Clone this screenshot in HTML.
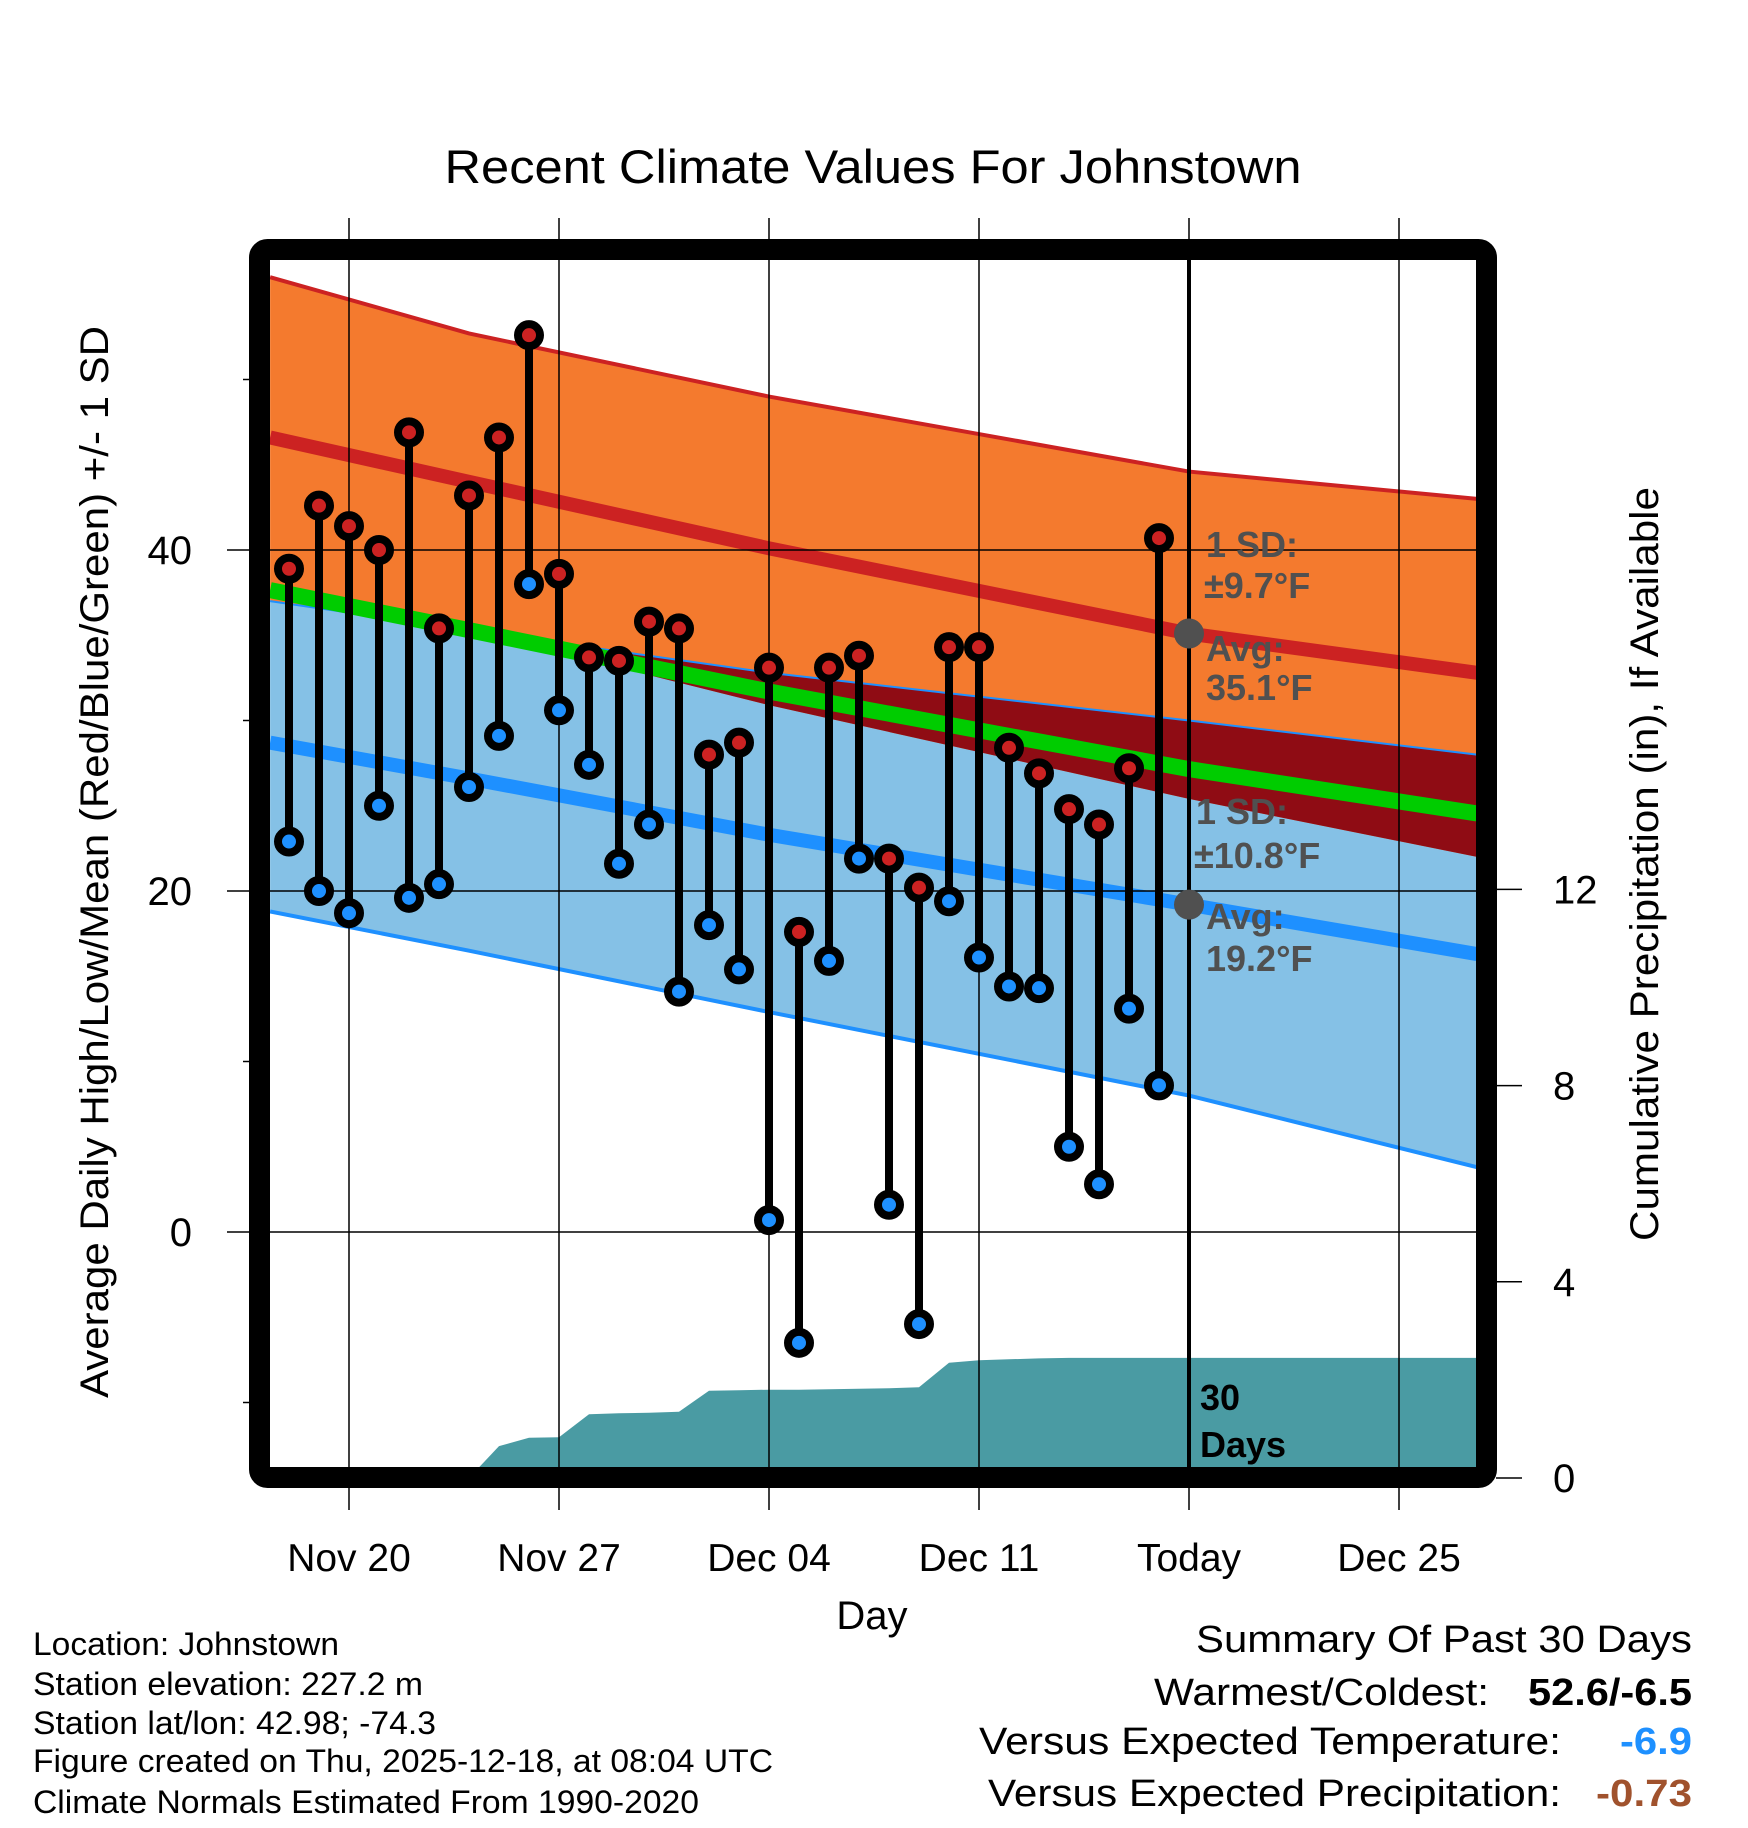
<!DOCTYPE html>
<html><head><meta charset="utf-8">
<style>
html,body{margin:0;padding:0;background:#fff;}
svg{display:block;}
text{font-family:"Liberation Sans",sans-serif;}
</style></head>
<body>
<svg id="chart" xmlns="http://www.w3.org/2000/svg" width="1748" height="1828" viewBox="0 0 1748 1828">
<defs><clipPath id="plotClip"><rect x="270" y="260" width="1208" height="1207"/></clipPath></defs>
<g id="bands" clip-path="url(#plotClip)"></g>
<g id="grid"></g>
<g id="marks" clip-path="url(#plotClip)"></g>
<rect x="259.5" y="249.5" width="1227" height="1228" rx="8" fill="none" stroke="#000" stroke-width="21"/>
<g id="axes"></g>
<text x="873" y="183" text-anchor="middle" font-size="47" textLength="857" lengthAdjust="spacingAndGlyphs">Recent Climate Values For Johnstown</text>
<text x="872" y="1629" text-anchor="middle" font-size="40">Day</text>
<text transform="translate(108,862) rotate(-90)" text-anchor="middle" font-size="40" textLength="1072" lengthAdjust="spacingAndGlyphs">Average Daily High/Low/Mean (Red/Blue/Green) +/- 1 SD</text>
<text transform="translate(1658,864) rotate(-90)" text-anchor="middle" font-size="40" textLength="754" lengthAdjust="spacingAndGlyphs">Cumulative Precipitation (in), If Available</text>
<g font-size="32">
<text x="33" y="1655" textLength="306" lengthAdjust="spacingAndGlyphs">Location: Johnstown</text>
<text x="33" y="1695" textLength="390" lengthAdjust="spacingAndGlyphs">Station elevation: 227.2 m</text>
<text x="33" y="1734" textLength="403" lengthAdjust="spacingAndGlyphs">Station lat/lon: 42.98; -74.3</text>
<text x="33" y="1772" textLength="740" lengthAdjust="spacingAndGlyphs">Figure created on Thu, 2025-12-18, at 08:04 UTC</text>
<text x="33" y="1813" textLength="666" lengthAdjust="spacingAndGlyphs">Climate Normals Estimated From 1990-2020</text>
</g>
<g font-size="38">
<text x="1692" y="1652" text-anchor="end" textLength="496" lengthAdjust="spacingAndGlyphs">Summary Of Past 30 Days</text>
<text x="1489" y="1705" text-anchor="end" textLength="335" lengthAdjust="spacingAndGlyphs">Warmest/Coldest:</text>
<text x="1692" y="1705" text-anchor="end" font-weight="bold" textLength="164" lengthAdjust="spacingAndGlyphs">52.6/-6.5</text>
<text x="1561" y="1754" text-anchor="end" textLength="582" lengthAdjust="spacingAndGlyphs">Versus Expected Temperature:</text>
<text x="1692" y="1754" text-anchor="end" font-weight="bold" fill="#1e90ff" textLength="72" lengthAdjust="spacingAndGlyphs">-6.9</text>
<text x="1561" y="1806" text-anchor="end" textLength="573" lengthAdjust="spacingAndGlyphs">Versus Expected Precipitation:</text>
<text x="1692" y="1806" text-anchor="end" font-weight="bold" fill="#a0522d" textLength="96" lengthAdjust="spacingAndGlyphs">-0.73</text>
</g>
<g id="annot" font-size="36" font-weight="bold" fill="#505050">
<text x="1206" y="557">1 SD:</text>
<text x="1204" y="598">±9.7°F</text>
<text x="1206" y="661">Avg:</text>
<text x="1206" y="700">35.1°F</text>
<text x="1196" y="824">1 SD:</text>
<text x="1194" y="868">±10.8°F</text>
<text x="1206" y="929">Avg:</text>
<text x="1206" y="971">19.2°F</text>
</g>
<g font-size="36" font-weight="bold">
<text x="1200" y="1410">30</text>
<text x="1200" y="1457">Days</text>
</g>
</svg>
<script>
// ---- data ----
const dayLabels = ["Nov 18","Nov 19","Nov 20","Nov 21","Nov 22","Nov 23","Nov 24","Nov 25","Nov 26","Nov 27","Nov 28","Nov 29","Nov 30","Dec 01","Dec 02","Dec 03","Dec 04","Dec 05","Dec 06","Dec 07","Dec 08","Dec 09","Dec 10","Dec 11","Dec 12","Dec 13","Dec 14","Dec 15","Dec 16","Dec 17"];
const highs = [38.9,42.6,41.4,40.0,46.9,35.4,43.2,46.6,52.6,38.6,33.7,33.5,35.8,35.4,28.0,28.7,33.1,17.6,33.1,33.8,21.9,20.2,34.3,34.3,28.4,26.9,24.8,23.9,27.2,40.7];
const lows = [22.9,20.0,18.7,25.0,19.6,20.4,26.1,29.1,38.0,30.6,27.4,21.6,23.9,14.1,18.0,15.4,0.7,-6.5,15.9,21.9,1.6,-5.4,19.4,16.1,14.4,14.3,5.0,2.8,13.1,8.6];
const precipCum = [0,0,0,0,0,0,0,0.65,0.82,0.83,1.3,1.32,1.33,1.35,1.78,1.79,1.8,1.8,1.81,1.82,1.83,1.85,2.35,2.4,2.42,2.44,2.45,2.45,2.45,2.45];
const normDays = [-2.63,4,14,28,37.6];
const hiUpper = [56.0,52.7,49.0,44.6,43.0];
const hiAvg = [46.6,44.0,40.1,35.1,32.8];
const hiLower = [37.0,35.3,30.9,25.4,22.0];
const loUpper = [36.8,35.3,32.8,30.0,28.0];
const loAvg = [28.7,26.6,23.3,19.2,16.3];
const loLower = [18.8,16.5,12.9,8.0,3.8];
const xTickLabels = ["Nov 20","Nov 27","Dec 04","Dec 11","Today","Dec 25"];
const xTickDays = [0,7,14,21,28,35];
const yTicks = [0,20,40];
const yMinorTicks = [-10,10,30,50];
const y2Ticks = [0,4,8,12];
const firstDay = -2;   // Nov 18 relative to Nov 20
const todayDay = 28;

// ---- axes ----
const NS = "http://www.w3.org/2000/svg";
const xS = d => 349 + 30 * d;
const yS = v => 1232 - 17.05 * v;
const y2S = p => 1478 - 49.05 * p;
function mk(tag, attrs, parent) {
  const e = document.createElementNS(NS, tag);
  for (const k in attrs) e.setAttribute(k, attrs[k]);
  parent.appendChild(e);
  return e;
}
const bands = document.getElementById('bands');
const grid = document.getElementById('grid');
const marks = document.getElementById('marks');
const axes = document.getElementById('axes');

function pts(days, vals) { return days.map((d, i) => xS(d) + ',' + yS(vals[i])); }
function band(top, bot, fill, name) {
  const p = pts(normDays, top).concat(pts(normDays, bot).reverse());
  const e = mk('polygon', {points: p.join(' '), fill: fill}, bands);
  
  
}
function line(vals, color, w, name) {
  const e = mk('polyline', {points: pts(normDays, vals).join(' '), fill: 'none', stroke: color, 'stroke-width': w}, bands);
  
  
}
const blueTop = normDays.map((d, i) => Math.max(loUpper[i], hiLower[i]));
const redTop = normDays.map((d, i) => Math.max(loUpper[i], hiLower[i]));
const meanVals = normDays.map((d, i) => (hiAvg[i] + loAvg[i]) / 2);
band(blueTop, loLower, '#85c1e6', 'low-sd-band');
band(hiUpper, hiLower, '#f47a2e', 'high-sd-band');
band(redTop, hiLower, '#8f0c14', 'overlap-band');
line(loUpper.map((v, i) => Math.max(v, hiLower[i])), '#1e90ff', 2, 'low-upper-line');
line(hiUpper, '#cc2222', 4, 'high-upper-line');
line(loLower, '#1e90ff', 4, 'low-lower-line');
line(hiAvg, '#cc2222', 14, 'high-avg-line');
line(loAvg, '#1e90ff', 14, 'low-avg-line');
line(meanVals, '#00cc00', 16, 'mean-line');

// precipitation area
{
  const p = [xS(firstDay) + ',' + y2S(0)];
  precipCum.forEach((v, i) => p.push(xS(firstDay + i) + ',' + y2S(v)));
  p.push(xS(37.6) + ',' + y2S(precipCum[precipCum.length - 1]));
  p.push(xS(37.6) + ',' + y2S(0));
  const e = mk('polygon', {points: p.join(' '), fill: '#4a9ba3'}, bands);
  
  
}

// grid
xTickDays.forEach((d, i) => {
  const g = mk('line', {x1: xS(d), x2: xS(d), y1: 218, y2: 1510, stroke: '#000', 'stroke-width': 1.5}, grid);
  
  
  const t = mk('text', {x: xS(d), y: 1571, 'text-anchor': 'middle', 'font-size': 39}, axes);
  t.textContent = xTickLabels[i];
  
  
});
yTicks.forEach(v => {
  const g = mk('line', {x1: 227, x2: 1478, y1: yS(v), y2: yS(v), stroke: '#000', 'stroke-width': 1.5}, grid);
  
  
  const t = mk('text', {x: 192, y: yS(v) + 14, 'text-anchor': 'end', 'font-size': 40}, axes);
  t.textContent = v;
  
  
});
yMinorTicks.forEach(v => {
  const g = mk('line', {x1: 243, x2: 252, y1: yS(v), y2: yS(v), stroke: '#000', 'stroke-width': 1.5}, axes);
  
  
});
y2Ticks.forEach(v => {
  const g = mk('line', {x1: 1496, x2: 1522, y1: y2S(v), y2: y2S(v), stroke: '#000', 'stroke-width': 1.5}, axes);
  
  
  const t = mk('text', {x: 1553, y: y2S(v) + 14, 'font-size': 40}, axes);
  t.textContent = v;
  
  
});

// today line
{
  const e = mk('line', {x1: xS(todayDay), x2: xS(todayDay), y1: 260, y2: 1467, stroke: '#000', 'stroke-width': 4}, marks);
  
  
}
// stems + markers
highs.forEach((h, i) => {
  const x = xS(firstDay + i);
  const s = mk('line', {x1: x, x2: x, y1: yS(h), y2: yS(lows[i]), stroke: '#000', 'stroke-width': 8}, marks);
  
  
});
highs.forEach((h, i) => {
  const x = xS(firstDay + i);
  const c1 = mk('circle', {cx: x, cy: yS(h), r: 11, fill: '#cc2222', stroke: '#000', 'stroke-width': 8}, marks);
  
  
  const c2 = mk('circle', {cx: x, cy: yS(lows[i]), r: 11, fill: '#1e90ff', stroke: '#000', 'stroke-width': 8}, marks);
  
  
});
// today normals dots
[hiAvg[3], loAvg[3]].forEach(v => {
  const c = mk('circle', {cx: xS(todayDay), cy: yS(v), r: 15, fill: '#505050'}, marks);
  
  
});
</script>
</body></html>
